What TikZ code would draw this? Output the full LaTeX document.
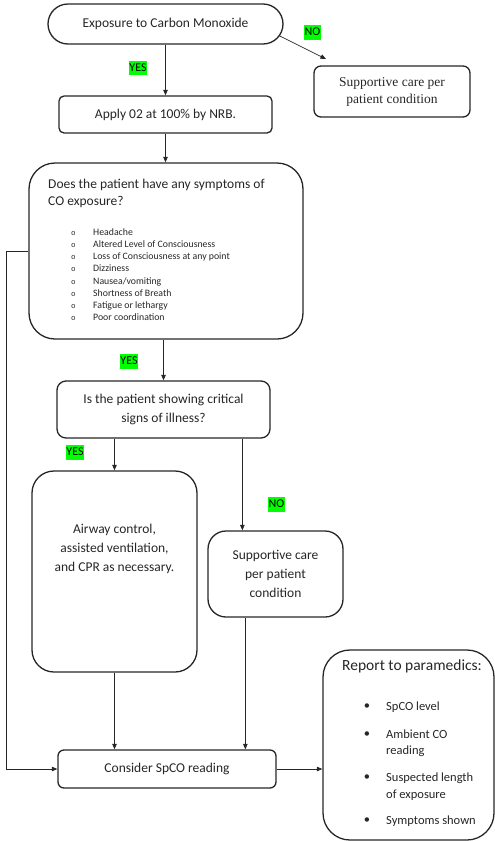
\documentclass[tikz,border=0pt]{standalone}
\usepackage{fontspec}
\setmainfont{Carlito}
\newfontfamily\serifschrift{Liberation Serif}
\newfontfamily\monoschrift{Liberation Mono}
\usetikzlibrary{arrows.meta,shapes.misc}
\definecolor{linie}{HTML}{262626}
\definecolor{markgruen}{HTML}{00FF00}
\tikzset{
    kasten/.style={draw=linie, line width=1.3pt, text=linie, align=center,
        inner sep=0pt, font=\fontsize{13.5}{19}\selectfont},
    beschriftung/.style={text=linie, align=center, inner sep=0pt,
        font=\fontsize{13.5}{19}\selectfont},
    marke/.style={fill=markgruen, text=black, font=\fontsize{12}{14}\selectfont,
        inner xsep=0.5pt, inner ysep=0.7pt, text height=9.5pt, text depth=3.5pt},
    liste/.style={text=linie, inner sep=0pt, anchor=west, text height=7pt,
        text depth=2pt, font=\fontsize{9.8}{12}\selectfont},
    pfeil/.style={draw=linie, line width=0.7pt},
}
\begin{document}
\begin{tikzpicture}[x=1pt, y=-1pt, >={Triangle[length=5.5pt,width=4.5pt]}]
        \useasboundingbox (0,0) rectangle (495,841);
        % Start
        \node[kasten, rounded rectangle, minimum width=235pt, minimum height=40pt]
            (expo) at (165.5,24) {Exposure to Carbon Monoxide};
        \node[kasten, rounded corners=5pt, minimum width=213pt, minimum height=37pt]
            (sauerstoff) at (165.5,114.5) {Apply 02 at 100\% by NRB.};
        \node[kasten, rounded corners=7pt, minimum width=156pt, minimum height=51pt,
            font=\serifschrift\fontsize{13.5}{17}\selectfont]
            (pflege1) at (392,91.5) {Supportive care per\\patient condition};
        % Symptome
        \node[kasten, rounded corners=26pt, minimum width=274pt, minimum height=176pt]
            (symptome) at (166,251) {};
        \node[beschriftung, align=left, anchor=west, font=\fontsize{13.5}{17}\selectfont]
            (frage) at (48,193.5) {Does the patient have any symptoms of\\CO exposure?};
        \foreach \name [count=\i] in {Headache, Altered Level of Consciousness,
            Loss of Consciousness at any point, Dizziness, Nausea/vomiting,
            Shortness of Breath, Fatigue or lethargy, Poor coordination} {
            \node[liste, font=\monoschrift\fontsize{7.5}{12}\selectfont]
                (kreis\i) at (71,{220.85+12.15*\i}) {o};
            \node[liste] (symptom\i) at (93,{220.85+12.15*\i}) {\name};
        }
        % kritisch?
        \node[kasten, rounded corners=9pt, minimum width=213pt, minimum height=57pt]
            (kritisch) at (163.5,409.5) {Is the patient showing critical\\signs of illness?};
        \node[kasten, rounded corners=22pt, minimum width=165pt, minimum height=201pt]
            (atemweg) at (114.5,571.5) {};
        \node[beschriftung] (atemtext) at (114.5,549)
            {Airway control,\\assisted ventilation,\\and CPR as necessary.};
        \node[kasten, rounded corners=18pt, minimum width=135pt, minimum height=86pt]
            (pflege2) at (275.5,574) {Supportive care\\per patient\\condition};
        % SpCO und Bericht
        \node[kasten, rounded corners=6pt, minimum width=218pt, minimum height=38pt]
            (spco) at (167,769) {Consider SpCO reading};
        \node[kasten, rounded corners=27pt, minimum width=171pt, minimum height=190pt]
            (bericht) at (408.5,745) {};
        \node[beschriftung, font=\fontsize{15.5}{19}\selectfont]
            (berichtkopf) at (412,666) {Report to paramedics:};
        \foreach \y/\b/\txt [count=\i] in {707/707/SpCO level,
            743/735/{Ambient CO\\reading}, 786.5/778/{Suspected length\\of exposure},
            821/821/Symptoms shown} {
            \node[beschriftung, font=\fontsize{12.5}{16.5}\selectfont]
                (punkt\i) at (367,\b) {\textbullet};
            \node[beschriftung, align=left, anchor=west, font=\fontsize{12.5}{16.5}\selectfont]
                (eintrag\i) at (386,\y) {\txt};
        }
        % Ja / Nein
        \node[marke] (ja1) at (138,68) {YES};
        \node[marke] (nein1) at (312.5,32.5) {NO};
        \node[marke] (ja2) at (129,361.5) {YES};
        \node[marke] (ja3) at (75,452.5) {YES};
        \node[marke] (nein2) at (276.5,504.5) {NO};
        % Pfeile
        \coordinate (neinende) at (326,59);
        \draw[pfeil, ->] (expo.south) -- (expo.south |- sauerstoff.north);
        \draw[pfeil, ->] (expo.-6) -- (neinende);
        \draw[pfeil, ->] (sauerstoff.south) -- (sauerstoff.south |- symptome.north);
        \draw[pfeil, ->] (kritisch.north |- symptome.south) -- (kritisch.north);
        \draw[pfeil, ->] (atemweg.north |- kritisch.south) -- (atemweg.north);
        \draw[pfeil, ->] ([xshift=35pt]pflege2.north west |- kritisch.south)
            -- ([xshift=35pt]pflege2.north west);
        \draw[pfeil, ->] (atemweg.south) -- (atemweg.south |- spco.north);
        \draw[pfeil, ->] ([xshift=38pt]pflege2.south west)
            -- ([xshift=38pt]pflege2.south west |- spco.north);
        \draw[pfeil, ->] (symptome.west) -- ++(-22,0) |- (spco.west);
        \draw[pfeil, ->] (spco.east) -- (spco.east -| bericht.west);
    \end{tikzpicture}
\end{document}
